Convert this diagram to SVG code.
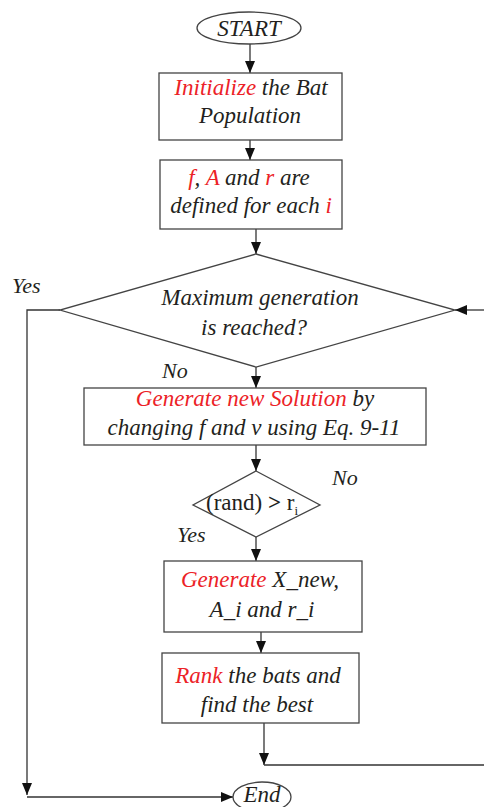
<svg xmlns="http://www.w3.org/2000/svg" width="484" height="807" viewBox="0 0 484 807">
<defs>
<style>
.shape{fill:#fff;stroke:#444;stroke-width:1.3}
.line{fill:none;stroke:#333;stroke-width:1.3}
.t{font-family:"Liberation Serif","Times New Roman",serif;font-style:italic;font-size:23px;fill:#231f20}
.r{fill:#ec2227}
.up{font-family:"Liberation Serif","Times New Roman",serif;font-size:23px;fill:#231f20}
.lbl{font-family:"Liberation Serif","Times New Roman",serif;font-style:italic;font-size:22px;fill:#231f20}
</style>
<marker id="arr" viewBox="0 0 12 10" refX="12" refY="5" markerWidth="12" markerHeight="10" markerUnits="userSpaceOnUse" orient="auto">
<path d="M0,0 L12,5 L0,10 z" fill="#111"/>
</marker>
</defs>

<g id="connectors">
<line class="line" x1="250" y1="43" x2="250" y2="73" marker-end="url(#arr)"/>
<line class="line" x1="250" y1="140" x2="250" y2="160" marker-end="url(#arr)"/>
<line class="line" x1="256" y1="229" x2="256" y2="254" marker-end="url(#arr)"/>
<line class="line" x1="256" y1="367" x2="256" y2="388" marker-end="url(#arr)"/>
<line class="line" x1="256" y1="445" x2="256" y2="471" marker-end="url(#arr)"/>
<line class="line" x1="256" y1="537" x2="256" y2="561" marker-end="url(#arr)"/>
<line class="line" x1="261" y1="632" x2="261" y2="653" marker-end="url(#arr)"/>
<line class="line" x1="264" y1="723" x2="264" y2="765" marker-end="url(#arr)"/>
<line class="line" x1="264" y1="765" x2="484" y2="765"/>
<line class="line" x1="484" y1="310" x2="455" y2="310" marker-end="url(#arr)"/>
<polyline class="line" points="60,310 27,310 27,795" marker-end="url(#arr)"/>
<line class="line" x1="27" y1="797" x2="233" y2="797" marker-end="url(#arr)"/>
<text class="lbl" x="12" y="293">Yes</text>
<text class="lbl" x="162" y="378">No</text>
<text class="lbl" x="332" y="485">No</text>
<text class="lbl" x="177" y="542">Yes</text>
</g>

<g id="start">
<ellipse class="shape" cx="249" cy="28" rx="52" ry="16"/>
<text class="t" x="249" y="36" text-anchor="middle">START</text>
</g>

<g id="init">
<rect class="shape" x="159" y="73" width="183" height="67"/>
<text class="t" x="251" y="95" text-anchor="middle"><tspan class="r">Initialize</tspan> the Bat</text>
<text class="t" x="250" y="123" text-anchor="middle">Population</text>
</g>

<g id="define">
<rect class="shape" x="160" y="160" width="182" height="69"/>
<text class="t" x="249" y="185" text-anchor="middle"><tspan class="r">f</tspan>, <tspan class="r">A</tspan> and <tspan class="r">r</tspan> are</text>
<text class="t" x="251" y="213" text-anchor="middle">defined for each <tspan class="r">i</tspan></text>
</g>

<g id="maxgen">
<polygon class="shape" points="256,254 455,310 256,367 60,310"/>
<text class="t" x="260" y="305" text-anchor="middle">Maximum generation</text>
<text class="t" x="254" y="335" text-anchor="middle">is reached?</text>
</g>

<g id="generate">
<rect class="shape" x="84" y="388" width="342" height="57"/>
<text class="t" x="255" y="406" text-anchor="middle"><tspan class="r">Generate new Solution</tspan> by</text>
<text class="t" x="254" y="435" text-anchor="middle">changing f and v using Eq. 9-11</text>
</g>

<g id="rand">
<polygon class="shape" points="256,471 320,505 256,537 193,505"/>
<text class="up" x="206" y="510">(rand) <tspan font-weight="bold">&gt;</tspan> r<tspan font-size="13" dy="5">i</tspan></text>
</g>

<g id="genx">
<rect class="shape" x="164" y="561" width="198" height="71"/>
<text class="t" x="260" y="587" text-anchor="middle"><tspan class="r">Generate</tspan> X_new,</text>
<text class="t" x="262" y="617" text-anchor="middle">A_i and r_i</text>
</g>

<g id="rank">
<rect class="shape" x="162" y="653" width="197" height="70"/>
<text class="t" x="258" y="683" text-anchor="middle"><tspan class="r">Rank</tspan> the bats and</text>
<text class="t" x="257" y="712" text-anchor="middle">find the best</text>
</g>

<g id="end">
<ellipse class="shape" cx="262" cy="797" rx="29" ry="15"/>
<text class="t" x="262" y="802" font-size="21" text-anchor="middle">End</text>
</g>
</svg>
